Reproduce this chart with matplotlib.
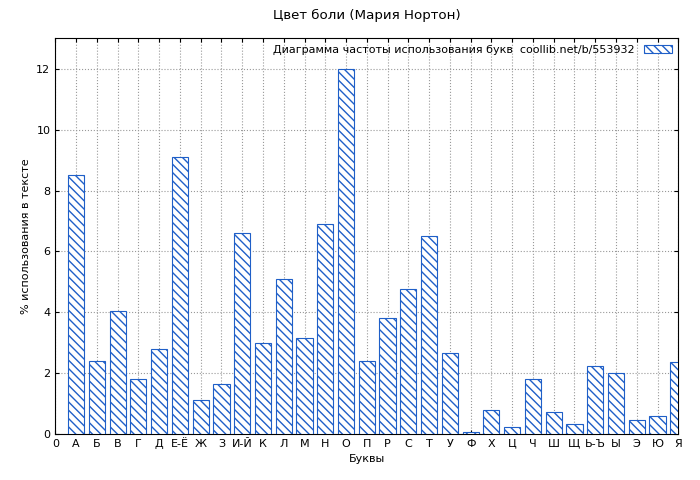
import matplotlib.pyplot as plt

labels = ['0', 'А', 'Б', 'В', 'Г', 'Д', 'Е-Ё', 'Ж', 'З', 'И-Й', 'К', 'Л', 'М', 'Н', 'О',
          'П', 'Р', 'С', 'Т', 'У', 'Ф', 'Х', 'Ц', 'Ч', 'Ш', 'Щ', 'Ь-Ъ', 'Ы', 'Э', 'Ю', 'Я']
values = [8.5, 2.4, 4.05, 1.8, 2.8, 9.1, 1.1, 1.65, 6.6, 3.0, 5.1, 3.15, 6.9, 12.0, 2.4,
          3.8, 4.75, 6.5, 2.65, 0.05, 0.78, 0.22, 1.8, 0.72, 0.32, 2.22, 2.0, 0.45, 0.58, 2.38]

plt.rcParams['font.size'] = 8
plt.rcParams['hatch.color'] = '#1f5fc8'
fig = plt.figure(figsize=(7, 4.8), dpi=100)
ax = fig.add_axes([0.079, 0.096, 0.89, 0.824])

pos = list(range(1, len(values) + 1))
ax.bar(pos, values, width=0.78, color='white', edgecolor='#1f5fc8', hatch='\\\\\\\\',
       linewidth=0.8, label='Диаграмма частоты использования букв  coollib.net/b/553932', zorder=3)
ax.set_xlim(0, 30)
ax.set_ylim(0, 13)
ax.set_xticks(range(len(labels)))
ax.set_xticklabels(labels)
ax.set_yticks(range(0, 13, 2))
ax.grid(True, linestyle=':', color='#999999', linewidth=0.8)
ax.tick_params(direction='in', length=3, top=True, right=True)
ax.set_xlabel('Буквы')
ax.set_ylabel('% использования в тексте')
ax.set_title('Цвет боли (Мария Нортон)', pad=14)
ax.legend(loc='upper right', frameon=False, markerfirst=False, handlelength=2.5,
          borderaxespad=0.2)
fig.savefig('out.png')
